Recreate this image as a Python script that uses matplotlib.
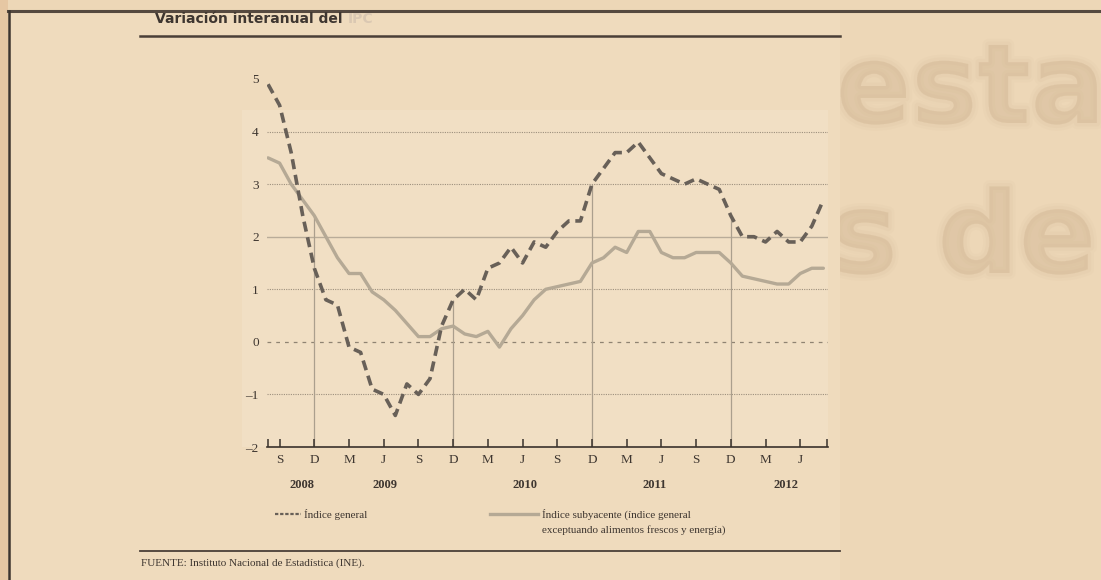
import matplotlib
matplotlib.use('Agg')
import matplotlib.pyplot as plt
import matplotlib.transforms as mtransforms
import matplotlib.patheffects as pe
from matplotlib.lines import Line2D
from matplotlib.patches import Rectangle

# months counted from Jan 2008 = 0, data runs Aug 2008 .. Aug 2012
months = list(range(7, 56))

general = [4.9, 4.5, 3.6, 2.4, 1.4,
           0.8, 0.7, -0.1, -0.2, -0.9, -1.0, -1.4, -0.8, -1.0, -0.7, 0.3, 0.8,
           1.0, 0.8, 1.4, 1.5, 1.8, 1.5, 1.9, 1.8, 2.1, 2.3, 2.3, 3.0,
           3.3, 3.6, 3.6, 3.8, 3.5, 3.2, 3.1, 3.0, 3.1, 3.0, 2.9, 2.4,
           2.0, 2.0, 1.9, 2.1, 1.9, 1.9, 2.2, 2.7]

subyacente = [3.5, 3.4, 3.0, 2.7, 2.4,
              2.0, 1.6, 1.3, 1.3, 0.95, 0.8, 0.6, 0.35, 0.1, 0.1, 0.25, 0.3,
              0.15, 0.1, 0.2, -0.1, 0.25, 0.5, 0.8, 1.0, 1.05, 1.1, 1.15, 1.5,
              1.6, 1.8, 1.7, 2.1, 2.1, 1.7, 1.6, 1.6, 1.7, 1.7, 1.7, 1.5,
              1.25, 1.2, 1.15, 1.1, 1.1, 1.3, 1.4, 1.4]

tick_months = [8, 11, 14, 17, 20, 23, 26, 29, 32, 35, 38, 41, 44, 47, 50, 53]
tick_labels = ['S', 'D', 'M', 'J', 'S', 'D', 'M', 'J', 'S', 'D', 'M', 'J', 'S', 'D', 'M', 'J']
year_labels = ['2008', '2009', '2010', '2011', '2012']
year_pos = [9.9, 17.1, 29.2, 40.4, 51.8]
dec_months = [11, 23, 35, 47]
yticks = [5, 4, 3, 2, 1, 0, -1, -2]

W, H = 1101, 580
paper = '#edd7b7'
dark = '#3e3630'
serif = ['Liberation Serif', 'DejaVu Serif']
narrow = ['Liberation Sans Narrow', 'DejaVu Sans Condensed', 'DejaVu Sans']


def fx(x):
    return x / W


def fy(y):
    return 1 - y / H


fig = plt.figure(figsize=(W / 100, H / 100), dpi=100, facecolor=paper)

# ghost text bleeding through from the page behind (soft edges)
ghost = '#c9ab88'
soft = [pe.Stroke(linewidth=9, foreground=ghost, alpha=0.06),
        pe.Stroke(linewidth=5, foreground=ghost, alpha=0.08),
        pe.Normal()]
g1 = fig.text(fx(836), fy(123), 'estado', fontsize=80, fontweight='bold',
              family=narrow, color=ghost, alpha=0.22, va='baseline')
g2 = fig.text(fx(830), fy(273), 's de euros', fontsize=82, fontweight='bold',
              family=narrow, color=ghost, alpha=0.22, va='baseline')
for g in (g1, g2):
    g.set_path_effects(soft)
    g.set_zorder(-5)

# panel and edge strips
fig.add_artist(Rectangle((fx(10), 0), fx(830), fy(12), transform=fig.transFigure,
                         color='#efdbbd', zorder=-3, lw=0))
fig.add_artist(Rectangle((0, 0), fx(8), 1, transform=fig.transFigure,
                         color='#e6c7a3', zorder=-3, lw=0))
fig.add_artist(Rectangle((fx(242), fy(447)), fx(828 - 242), (447 - 110) / H,
                         transform=fig.transFigure, color='#f1dfc4', zorder=-2, lw=0))

# rules
fig.add_artist(Line2D([fx(8), 1], [fy(11), fy(11)], transform=fig.transFigure,
                      color='#55493f', lw=2.2))
fig.add_artist(Line2D([fx(9), fx(9)], [fy(11), 0], transform=fig.transFigure,
                      color='#3d342e', lw=1.8))
fig.add_artist(Line2D([fx(140), fx(840)], [fy(36), fy(36)], transform=fig.transFigure,
                      color='#4a3f37', lw=1.8))
fig.add_artist(Line2D([fx(140), fx(840)], [fy(551), fy(551)], transform=fig.transFigure,
                      color='#4a3f37', lw=1.3))

# title
t = fig.text(fx(155), fy(23), 'Variación interanual del ', fontsize=10, fontweight='bold',
             family=narrow, color=dark, va='baseline')
fig.canvas.draw()
bb = t.get_window_extent()
fig.text(bb.x1 / W, fy(23), 'IPC', fontsize=10, fontweight='bold', family=narrow,
         color='#dac8b2', va='baseline')

# footer
fig.text(fx(141), fy(563), 'FUENTE: Instituto Nacional de Estadística (INE).', fontsize=8,
         family=serif, color=dark, va='center')

# chart axes
ax_top = 342 - 52.6 * 5.2
ax = fig.add_axes([fx(267), fy(447), fx(828 - 267), (447 - ax_top) / H])
ax.set_zorder(2)
ax.set_facecolor('none')
ax.set_xlim(6.91, 55.4)
ax.set_ylim(-2, 5.2)
for s in ['top', 'right', 'left']:
    ax.spines[s].set_visible(False)
ax.spines['bottom'].set_color('#3a322c')
ax.spines['bottom'].set_linewidth(1.2)

# grid
for v in [4, 3, 1, -1]:
    ax.axhline(v, color='#9c8f7d', lw=0.8, ls=(0, (1, 1.1)), zorder=1)
ax.axhline(2, color='#b9ac99', lw=1.0, zorder=1)
ax.axhline(0, color='#8f8372', lw=0.9, ls=(0, (3, 4)), zorder=1)
for m in dec_months:
    i = months.index(m)
    ax.vlines(m, -2, max(general[i], subyacente[i]), color='#ab9f8d', lw=0.9, zorder=1)

ax.plot(months, subyacente, color='#b5a995', lw=2.4, solid_capstyle='round', zorder=2)
ax.plot(months, general, color='#686058', lw=2.6, dashes=(2.8, 1.6), zorder=3)

ax.set_yticks(yticks)
ax.set_yticklabels([str(v) if v >= 0 else '\u2013' + str(-v) for v in yticks])
ax.set_xticks(tick_months)
ax.set_xticklabels(tick_labels)
ax.set_xticks([7, 55.3], minor=True)
ax.tick_params(axis='y', length=0, pad=6, labelsize=9.5, labelcolor=dark)
ax.tick_params(axis='x', which='both', direction='in', length=6, width=1.1,
               color='#3a322c', pad=5, labelsize=9.5, labelcolor=dark)
for lab in ax.get_xticklabels() + ax.get_yticklabels():
    lab.set_family(serif)

# years
trans = mtransforms.blended_transform_factory(ax.transData, fig.transFigure)
for yl, xp in zip(year_labels, year_pos):
    ax.text(xp, fy(485), yl, transform=trans, ha='center', va='center', fontsize=9,
            fontweight='bold', family=serif, color=dark, clip_on=False)

# legend
fig.add_artist(Line2D([fx(275), fx(301)], [fy(514), fy(514)], transform=fig.transFigure,
                      color='#686058', lw=1.6, dashes=(1.5, 0.8)))
fig.text(fx(304), fy(514), 'Índice general', fontsize=8, family=serif, color=dark,
         va='center')
fig.add_artist(Line2D([fx(490), fx(538)], [fy(514), fy(514)], transform=fig.transFigure,
                      color='#b5a995', lw=2.4))
fig.text(fx(542), fy(514), 'Índice subyacente (índice general', fontsize=8, family=serif,
         color=dark, va='center')
fig.text(fx(542), fy(530), 'exceptuando alimentos frescos y energía)', fontsize=8,
         family=serif, color=dark, va='center')

fig.savefig('out.png', dpi=100, facecolor=paper)
